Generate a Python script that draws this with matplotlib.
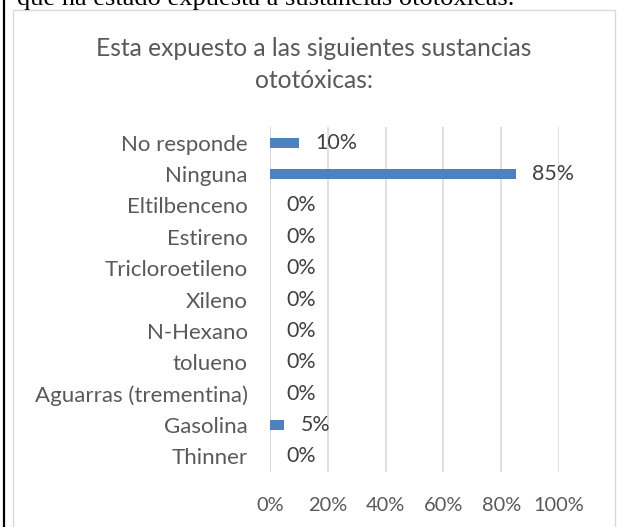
import matplotlib
matplotlib.use('Agg')
import matplotlib.pyplot as plt
from matplotlib.patches import Rectangle
from matplotlib.lines import Line2D

categories = ['No responde', 'Ninguna', 'Eltilbenceno', 'Estireno', 'Tricloroetileno',
              'Xileno', 'N-Hexano', 'tolueno', 'Aguarras (trementina)', 'Gasolina', 'Thinner']
values = [10, 85, 0, 0, 0, 0, 0, 0, 0, 5, 0]
xticks = [0, 20, 40, 60, 80, 100]
xtick_labels = ['0%', '20%', '40%', '60%', '80%', '100%']

W, H = 620, 527
plt.rcParams['font.family'] = ['Lato', 'DejaVu Sans']

fig = plt.figure(figsize=(W / 100, H / 100), dpi=100)

def px(x, y, w, h):
    # pixel box (from top-left) -> figure fraction
    return [x / W, 1 - (y + h) / H, w / W, h / H]

# page border and cropped document text above the chart
fig.add_artist(Line2D([3.5 / W, 3.5 / W], [0, 1], color='black', lw=1.6, transform=fig.transFigure))
fig.text(17 / W, 1 - 5 / H, 'que ha estado expuesta a sustancias ototóxicas.',
         family='Liberation Serif', fontsize=19, color='black', va='baseline', ha='left')

# chart frame
fig.add_artist(Rectangle((13 / W, -0.01), (615 - 13) / W, 1.01 - 10 / H, fill=False,
                         edgecolor='#d9d9d9', lw=1, transform=fig.transFigure))

fig.text(314 / W, 1 - 64.5 / H, 'Esta expuesto a las siguientes sustancias\nototóxicas:',
         ha='center', va='center', fontsize=17.7, color='#595959', linespacing=1.48)

ax = fig.add_axes(px(270, 127, 289, 345))
y = list(range(len(categories)))
ax.barh(y, values, height=0.32, color='#4f81bd', zorder=3)
ax.set_xlim(0, 100)
ax.set_ylim(len(categories) - 0.5, -0.5)
ax.set_xticks(xticks)
ax.set_xticklabels(xtick_labels)
ax.set_yticks(y)
ax.set_yticklabels(categories)
ax.grid(axis='x', color='#d9d9d9', lw=1.2, zorder=0)
for s in ax.spines.values():
    s.set_visible(False)
ax.axvline(0, color='#d9d9d9', lw=1.2, zorder=1)
ax.tick_params(axis='both', length=0, colors='#595959')
ax.tick_params(axis='x', pad=18, labelsize=14.4)
ax.tick_params(axis='y', pad=16, labelsize=16)

for yi, v in zip(y, values):
    ax.annotate(f'{v}%', (v, yi), xytext=(11.5, 0), textcoords='offset points',
                ha='left', va='center', fontsize=15.4, color='#404040')

fig.savefig('out.png', dpi=100, facecolor='white')
